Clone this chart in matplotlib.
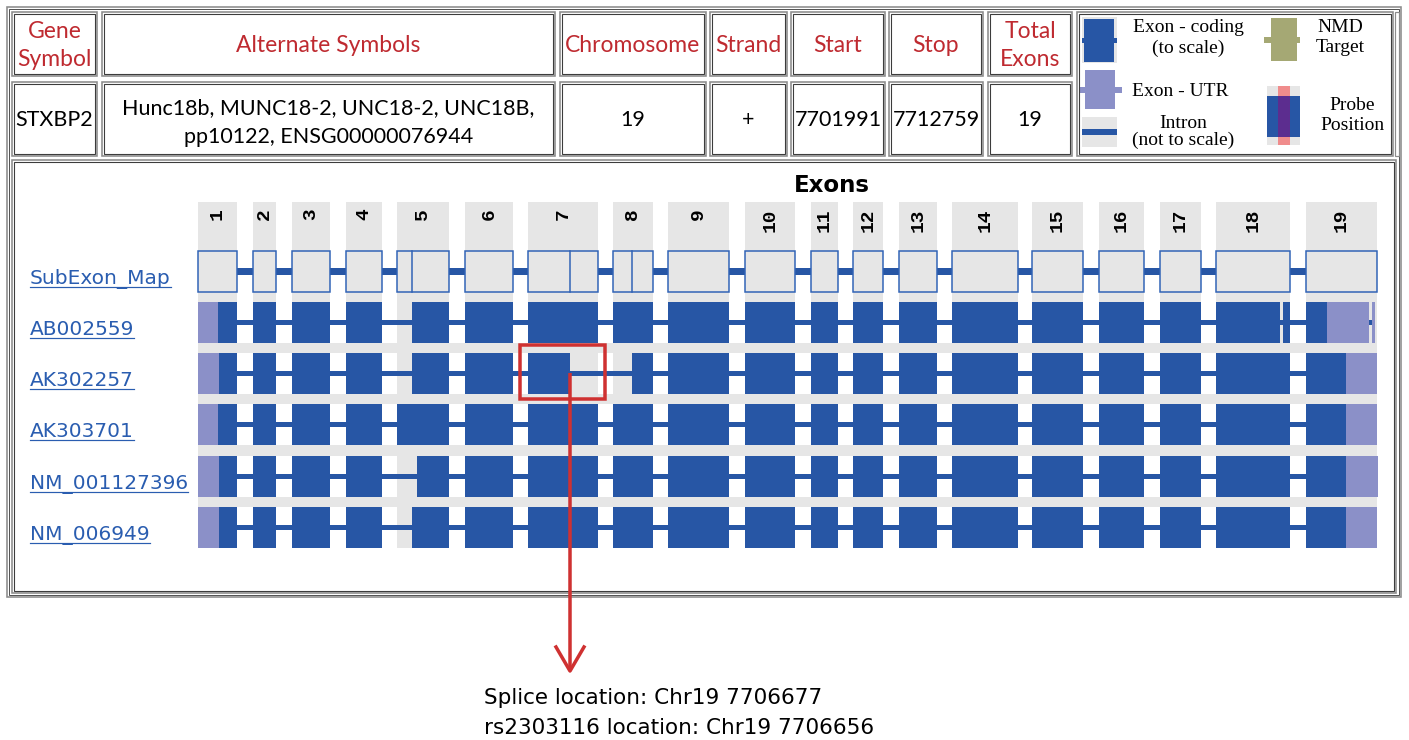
import numpy as np
import matplotlib.pyplot as plt
from matplotlib.patches import Rectangle

# ---------------- table data ----------------
header_labels = ['Gene\nSymbol', 'Alternate Symbols', 'Chromosome', 'Strand',
                 'Start', 'Stop', 'Total\nExons']
row_values = ['STXBP2', 'Hunc18b, MUNC18-2, UNC18-2, UNC18B,\npp10122, ENSG00000076944',
              '19', '+', '7701991', '7712759', '19']

# ---------------- exon map data (diagram x units) ----------------
exon_labels = [str(i) for i in range(1, 20)]
exon_x0 = [198, 253, 292, 346, 397, 465, 528, 613, 668, 745, 811, 853, 899, 952,
           1032, 1099, 1160, 1216, 1306]
exon_x1 = [237, 276, 330, 382, 449, 513, 598, 653, 729, 795, 838, 883, 937, 1018,
           1083, 1144, 1201, 1290, 1377]
subexon_splits = [412, 570, 632]

transcripts = ['AB002559', 'AK302257', 'AK303701', 'NM_001127396', 'NM_006949']

ab002559 = [(198, 218, 'utr'), (218, 237, 'cds'), (253, 276, 'cds'), (292, 330, 'cds'),
            (346, 382, 'cds'), (412, 449, 'cds'), (465, 513, 'cds'), (528, 598, 'cds'),
            (613, 653, 'cds'), (668, 729, 'cds'), (745, 795, 'cds'), (811, 838, 'cds'),
            (853, 883, 'cds'), (899, 937, 'cds'), (952, 1018, 'cds'), (1032, 1083, 'cds'),
            (1099, 1144, 'cds'), (1160, 1201, 'cds'), (1216, 1280, 'cds'), (1283, 1290, 'cds'),
            (1306, 1327, 'cds'), (1327, 1369, 'utr'), (1372, 1375, 'utr')]
ak302257 = [(198, 219, 'utr'), (219, 237, 'cds'), (253, 276, 'cds'), (292, 330, 'cds'),
            (346, 382, 'cds'), (412, 449, 'cds'), (465, 513, 'cds'), (528, 570, 'cds'),
            (632, 653, 'cds'), (668, 729, 'cds'), (745, 795, 'cds'), (811, 838, 'cds'),
            (853, 883, 'cds'), (899, 937, 'cds'), (952, 1018, 'cds'), (1032, 1083, 'cds'),
            (1099, 1144, 'cds'), (1160, 1201, 'cds'), (1216, 1290, 'cds'),
            (1306, 1346, 'cds'), (1346, 1377, 'utr')]
ak303701 = [(198, 218, 'utr'), (218, 237, 'cds'), (253, 276, 'cds'), (292, 330, 'cds'),
            (346, 382, 'cds'), (397, 449, 'cds'), (465, 513, 'cds'), (528, 598, 'cds'),
            (613, 653, 'cds'), (668, 729, 'cds'), (745, 795, 'cds'), (811, 838, 'cds'),
            (853, 883, 'cds'), (899, 937, 'cds'), (952, 1018, 'cds'), (1032, 1083, 'cds'),
            (1099, 1144, 'cds'), (1160, 1201, 'cds'), (1216, 1290, 'cds'),
            (1306, 1346, 'cds'), (1346, 1377, 'utr')]
nm_001127396 = [(198, 219, 'utr'), (219, 237, 'cds'), (253, 276, 'cds'), (292, 330, 'cds'),
                (346, 382, 'cds'), (417, 449, 'cds'), (465, 513, 'cds'), (528, 598, 'cds'),
                (613, 653, 'cds'), (668, 729, 'cds'), (745, 795, 'cds'), (811, 838, 'cds'),
                (853, 883, 'cds'), (899, 937, 'cds'), (952, 1018, 'cds'), (1032, 1083, 'cds'),
                (1099, 1144, 'cds'), (1160, 1201, 'cds'), (1216, 1290, 'cds'),
                (1306, 1346, 'cds'), (1346, 1378, 'utr')]
nm_006949 = [(198, 219, 'utr'), (219, 237, 'cds'), (253, 276, 'cds'), (292, 330, 'cds'),
             (346, 382, 'cds'), (412, 449, 'cds'), (465, 513, 'cds'), (528, 598, 'cds'),
             (613, 653, 'cds'), (668, 729, 'cds'), (745, 795, 'cds'), (811, 838, 'cds'),
             (853, 883, 'cds'), (899, 937, 'cds'), (952, 1018, 'cds'), (1032, 1083, 'cds'),
             (1099, 1144, 'cds'), (1160, 1201, 'cds'), (1216, 1290, 'cds'),
             (1306, 1346, 'cds'), (1346, 1377, 'utr')]
segments = [ab002559, ak302257, ak303701, nm_001127396, nm_006949]

splice_note = ['Splice location: Chr19 7706677', 'rs2303116 location: Chr19 7706656']

# ---------------- styles / layout ----------------
BLUE = '#2756a5'
UTR = '#8b90c8'
GRAY = '#e6e6e6'
HEAD_RED = '#bf2a30'
MARK_RED = '#cf3131'
LINK = '#2a5db0'
PX = 0.72  # points per pixel at dpi 100

fig = plt.figure(figsize=(14.09, 7.40), dpi=100)
ax = fig.add_axes([0, 0, 1, 1])
ax.set_xlim(0, 1409)
ax.set_ylim(740, 0)
ax.axis('off')


def rect(x0, y0, x1, y1, fc='none', ec='none', lw=0, z=1):
    ax.add_patch(Rectangle((x0, y0), x1 - x0, y1 - y0, facecolor=fc, edgecolor=ec,
                           linewidth=lw * PX, zorder=z))


def cell(x0, y0, x1, y1):
    rect(x0, y0, x1, y1, ec='#8c8c8c', lw=1.6, z=5)
    rect(x0 + 2, y0 + 2, x1 - 2, y1 - 2, ec='#3c3c3c', lw=1.1, z=5)


def lines(x, ys, s, **kw):
    for y, part in zip(ys, s.split('\n')):
        ax.text(x, y, part, ha='center', va='center', **kw)


# outer frames
rect(7, 7, 1401, 597, ec='#8c8c8c', lw=1.6, z=5)
rect(9, 9, 1399, 595, ec='#555555', lw=1.0, z=5)

# ---------------- table ----------------
col_left = [12, 102, 560, 710, 791, 889, 988]
col_right = [97, 555, 706, 787, 885, 983, 1072]
for lab, val, x0, x1 in zip(header_labels, row_values, col_left, col_right):
    cell(x0, 12, x1, 76)
    cell(x0, 82, x1, 156)
    xc = (x0 + x1) / 2
    hy = [32, 59] if '\n' in lab else [45]
    vy = [108, 137] if '\n' in val else [120]
    lines(xc, hy, lab, color=HEAD_RED, fontsize=16.5, family='Lato')
    lines(xc, vy, val, color='black', fontsize=15.5, family='Lato')

# legend cell
cell(1077, 12, 1393, 156)
rect(1395, 12, 1399, 156, ec='#8c8c8c', lw=1.2, z=5)
# coding exon icon
rect(1082, 17, 1117, 63, fc=GRAY)
rect(1084, 19, 1114, 62, fc=BLUE, z=2)
rect(1082, 38, 1117, 43, fc=BLUE, z=2)
# utr icon
rect(1085, 70, 1115, 109, fc=UTR, z=2)
rect(1080, 87, 1122, 93, fc=UTR, z=2)
# intron icon
rect(1082, 117, 1117, 147, fc=GRAY)
rect(1082, 129, 1117, 135, fc=BLUE, z=2)
# NMD icon
rect(1271, 18, 1297, 61, fc='#a5a874', z=2)
rect(1264, 37, 1300, 43, fc='#a5a874', z=2)
# probe icon
rect(1267, 86, 1300, 145, fc=GRAY)
rect(1267, 96, 1300, 137, fc=BLUE, z=2)
rect(1278, 86, 1290, 145, fc='#f08c8c', z=3)
rect(1278, 96, 1290, 137, fc='#5c2d8f', z=4)

lg = dict(family='Liberation Serif', fontsize=14)
lines(1188, [27, 48], 'Exon - coding\n(to scale)', **lg)
lines(1180, [91], 'Exon - UTR', **lg)
lines(1183, [123, 140], 'Intron\n(not to scale)', **lg)
lines(1340, [27, 48], 'NMD\nTarget', **lg)
lines(1352, [105, 126], 'Probe\nPosition', **lg)

# ---------------- exon map panel ----------------
cell(12, 160, 1396, 593)
ax.text(832, 186, 'Exons', ha='center', va='center', fontsize=16.5,
        fontweight='bold', family='DejaVu Sans')

map_top, map_bot = 251, 292
row_top = [302, 353, 404, 456, 507]
row_h = 41

for lab, x0, x1 in zip(exon_labels, exon_x0, exon_x1):
    rect(x0, 202, x1, row_top[-1] + row_h, fc=GRAY, z=0)
    ax.text((x0 + x1) / 2, 208, lab, rotation=90, ha='center', va='top',
            fontsize=14, fontweight='bold', family='Liberation Mono')

# gray bands between transcript rows
for i in range(len(row_top) - 1):
    rect(exon_x0[0], row_top[i] + row_h, exon_x1[-1], row_top[i + 1], fc=GRAY, z=0)

# subexon map
ymid = (map_top + map_bot) / 2
rect(exon_x0[0], ymid - 3.5, exon_x1[-1], ymid + 3.5, fc=BLUE, z=1)
for x0, x1 in zip(exon_x0, exon_x1):
    rect(x0, map_top, x1, map_bot, fc=GRAY, ec='#2f62b6', lw=1.5, z=2)
for xs in subexon_splits:
    ax.plot([xs, xs], [map_top, map_bot], color='#2f62b6', lw=1.5 * PX, zorder=3)

# transcripts
for top, segs in zip(row_top, segments):
    yc = top + row_h / 2
    rect(segs[0][0], yc - 2.5, segs[-1][1], yc + 2.5, fc=BLUE, z=1)
    for x0, x1, kind in segs:
        rect(x0, top, x1, top + row_h, fc=BLUE if kind == 'cds' else UTR, z=2)

# row labels with underline
fig.canvas.draw()
renderer = fig.canvas.get_renderer()
inv = ax.transData.inverted()
label_y = [map_top + 33] + [t + 33 for t in row_top]
for name, y in zip(['SubExon_Map'] + transcripts, label_y):
    t = ax.text(30, y, name, ha='left', va='baseline', color=LINK, fontsize=14.5,
                family='DejaVu Sans')
    bb = t.get_window_extent(renderer)
    (xa, _), (xb, _) = inv.transform([[bb.x0, bb.y0], [bb.x1, bb.y0]])
    ax.plot([xa, xb], [y + 3, y + 3], color=LINK, lw=1.2 * PX)

# highlight of splice site
rect(520, 345, 605, 399, ec=MARK_RED, lw=3.5, z=6)
ax.plot([570, 570], [373, 670], color=MARK_RED, lw=3.5 * PX, zorder=6,
        solid_capstyle='butt')
ax.plot([556, 570, 584], [647, 671, 647], color=MARK_RED, lw=3.5 * PX, zorder=6)

ax.text(484, 698, splice_note[0], ha='left', va='center', fontsize=15.5,
        family='DejaVu Sans')
ax.text(484, 728, splice_note[1], ha='left', va='center', fontsize=15.5,
        family='DejaVu Sans')

fig.savefig('out.png', dpi=100)
